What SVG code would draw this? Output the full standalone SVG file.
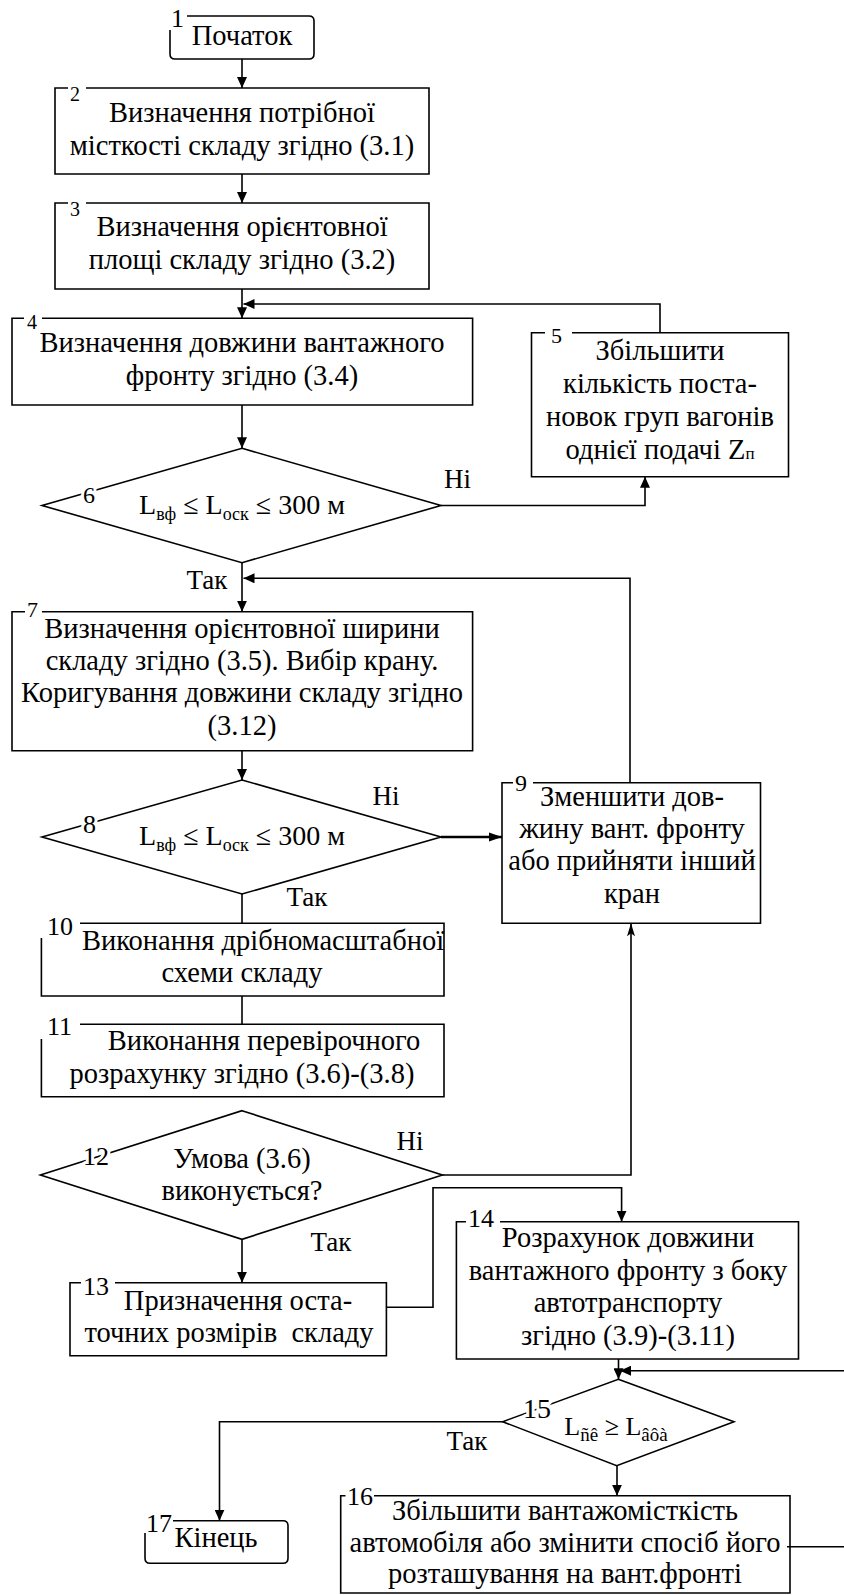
<svg xmlns="http://www.w3.org/2000/svg" width="844" height="1595" viewBox="0 0 844 1595">
<style>
text{font-family:'Liberation Serif','Times New Roman',serif;fill:#000}
.t{font-size:28.5px;text-anchor:middle}
.n{font-size:26px}
.ns{font-size:20px}
.h{stroke:#fff;stroke-width:6px;paint-order:stroke;stroke-linejoin:round}
.b{fill:none;stroke:#000;stroke-width:1.6}
.c{fill:none;stroke:#000;stroke-width:1.6}
.lab{font-size:27px;text-anchor:middle}
.f{font-size:28px;text-anchor:middle}
.sub{font-size:18px}
</style>
<defs>
<marker id="a" markerUnits="userSpaceOnUse" markerWidth="12" markerHeight="10" refX="11" refY="5" orient="auto">
<path d="M0,0 L11,5 L0,10 z" fill="#000"/>
</marker>
<marker id="a2" markerUnits="userSpaceOnUse" markerWidth="14" markerHeight="10" refX="13" refY="5" orient="auto">
<path d="M0,0.5 L13,5 L0,9.5 z" fill="#000"/>
</marker>
<marker id="a3" markerUnits="userSpaceOnUse" markerWidth="14" markerHeight="8" refX="13" refY="4" orient="auto">
<path d="M0,0 L13,4 L0,8 L3,4 z" fill="#000"/>
</marker>
</defs>
<rect width="844" height="1595" fill="#fff"/>

<g id="connectors">
<path class="c" d="M242,59 V88" marker-end="url(#a)"/>
<path class="c" d="M242,174 V203" marker-end="url(#a)"/>
<path class="c" d="M242,289 V318.3" marker-end="url(#a)"/>
<path class="c" d="M660,332.7 V304 H243.5" marker-end="url(#a)"/>
<path class="c" d="M242,405 V448.3" marker-end="url(#a)"/>
<path class="c" d="M441,505.5 H645 V476.7" marker-end="url(#a)"/>
<path class="c" d="M242,563 V611.7" marker-end="url(#a)"/>
<path class="c" d="M630,782.7 V578.3 H243.5" marker-end="url(#a)"/>
<path class="c" d="M242,750.7 V780" marker-end="url(#a)"/>
<path class="c" style="stroke-width:2.4" d="M441,837 H502" marker-end="url(#a2)"/>
<path class="c" d="M242,894 V923.3"/>
<path class="c" d="M242,996 V1024.3"/>
<path class="c" d="M442.4,1175 H631 V923.3" marker-end="url(#a3)"/>
<path class="c" d="M242,1239 V1282.7" marker-end="url(#a)"/>
<path class="c" d="M386.4,1307.3 H433 V1187.7 H621.6 V1221.7" marker-end="url(#a)"/>
<path class="c" d="M618.5,1359 V1379.3" marker-end="url(#a)"/>
<path class="c" d="M844,1370.7 H620" marker-end="url(#a)"/>
<path class="c" d="M502.7,1421.7 H219.5 V1520.7" marker-end="url(#a)"/>
<path class="c" d="M617,1465.7 V1495.7" marker-end="url(#a)"/>
<path class="c" d="M787,1546.7 H844"/>
<text class="lab" x="457.5" y="488">Ні</text>
<text class="lab" x="207" y="589">Так</text>
<text class="lab" x="386" y="805">Ні</text>
<text class="lab" x="307" y="906">Так</text>
<text class="lab" x="410" y="1150">Ні</text>
<text class="lab" x="331" y="1251">Так</text>
<text class="lab" x="467" y="1450">Так</text>
</g>

<g id="n1">
<path class="b" d="M187,16 H309 Q314,16 314,21 V54 Q314,59 309,59 H175 Q170,59 170,54 V30"/>
<text class="n" x="171" y="27">1</text>
<text class="t" x="242" y="45">Початок</text>
</g>
<g id="n2">
<path class="b" d="M68,88 H55 V174 H429 V88 H86"/>
<text class="ns" x="70" y="101">2</text>
<text class="t" x="242" y="122">Визначення потрібної</text>
<text class="t" x="242" y="155">місткості складу згідно (3.1)</text>
</g>
<g id="n3">
<path class="b" d="M68,203 H55 V289 H429 V203 H86"/>
<text class="ns" x="70" y="216">3</text>
<text class="t" x="242" y="236">Визначення орієнтовної</text>
<text class="t" x="242" y="269">площі складу згідно (3.2)</text>
</g>
<g id="n4">
<path class="b" d="M24,318.3 H12 V405 H472.6 V318.3 H42"/>
<text class="ns" x="27" y="329">4</text>
<text class="t" x="242" y="352">Визначення довжини вантажного</text>
<text class="t" x="242" y="385">фронту згідно (3.4)</text>
</g>
<g id="n5">
<path class="b" d="M545,332.7 H531.5 V476.7 H788.5 V332.7 H572"/>
<text class="ns" x="551" y="343" style="font-size:22px">5</text>
<text class="t" x="660" y="360">Збільшити</text>
<text class="t" x="660" y="393">кількість поста-</text>
<text class="t" x="660" y="426">новок груп вагонів</text>
<text class="t" x="660" y="459">однієї подачі Z<tspan style="font-size:17px">п</tspan></text>
</g>
<g id="n6">
<path class="b" d="M242,448.3 L441,505.5 L242,562.7 L42,505.5 Z"/>
<text class="n h" x="83" y="503" style="font-size:24px">6</text>
<text class="f" x="242" y="514">L<tspan class="sub" dy="6">вф</tspan><tspan dy="-6"> ≤ L</tspan><tspan class="sub" dy="6">оск</tspan><tspan dy="-6"> ≤ 300 м</tspan></text>
</g>
<g id="n7">
<path class="b" d="M25,611.7 H12 V750.7 H472.6 V611.7 H42"/>
<text class="ns" x="27" y="617" style="font-size:22px">7</text>
<text class="t" x="242" y="638">Визначення орієнтовної ширини</text>
<text class="t" x="242" y="670">складу згідно (3.5). Вибір крану.</text>
<text class="t" x="242" y="702">Коригування довжини складу згідно</text>
<text class="t" x="242" y="735">(3.12)</text>
</g>
<g id="n8">
<path class="b" d="M242,780 L441,837 L242,894 L42,837 Z"/>
<text class="n h" x="83" y="833">8</text>
<text class="f" x="242" y="845">L<tspan class="sub" dy="6">вф</tspan><tspan dy="-6"> ≤ L</tspan><tspan class="sub" dy="6">оск</tspan><tspan dy="-6"> ≤ 300 м</tspan></text>
</g>
<g id="n9">
<path class="b" d="M513,782.7 H502 V923.3 H760.5 V782.7 H533"/>
<text class="n" x="515" y="791" style="font-size:24px">9</text>
<text class="t" x="632" y="806">Зменшити дов-</text>
<text class="t" x="632" y="838">жину вант. фронту</text>
<text class="t" x="632" y="870">або прийняти інший</text>
<text class="t" x="632" y="903">кран</text>
</g>
<g id="n10">
<path class="b" d="M41.4,938 V996 H444 V923.3 H80"/>
<text class="n" x="47" y="935">10</text>
<text class="t" x="263" y="950">Виконання дрібномасштабної</text>
<text class="t" x="242" y="982">схеми складу</text>
</g>
<g id="n11">
<path class="b" d="M41.4,1039 V1096.7 H444 V1024.3 H80"/>
<text class="n" x="47" y="1035">11</text>
<text class="t" x="264" y="1050">Виконання перевірочного</text>
<text class="t" x="242" y="1083">розрахунку згідно (3.6)-(3.8)</text>
</g>
<g id="n12">
<path class="b" d="M242,1110.7 L442.4,1175 L242,1239.3 L40.4,1175 Z"/>
<text class="n h" x="83" y="1165">12</text>
<text class="t" x="242" y="1168">Умова (3.6)</text>
<text class="t" x="242" y="1200">виконується?</text>
</g>
<g id="n13">
<path class="b" d="M81,1282.7 H70 V1355.7 H386.4 V1282.7 H115"/>
<text class="n" x="83" y="1295">13</text>
<text class="t" x="238" y="1310">Призначення оста-</text>
<text class="t" x="229" y="1342" style="white-space:pre">точних розмірів  складу</text>
</g>
<g id="n14">
<path class="b" d="M466,1221.7 H456.4 V1359 H798.5 V1221.7 H500"/>
<text class="n" x="468" y="1227">14</text>
<text class="t" x="628" y="1247">Розрахунок довжини</text>
<text class="t" x="628" y="1280">вантажного фронту з боку</text>
<text class="t" x="628" y="1312">автотранспорту</text>
<text class="t" x="628" y="1345">згідно (3.9)-(3.11)</text>
</g>
<g id="n15">
<path class="b" d="M618.3,1379.3 L734,1421.7 L616.7,1465.7 L502.7,1421.7 Z"/>
<text class="n h" x="523" y="1418" style="font-size:28px">15</text>
<text x="616" y="1435" style="font-size:26px;text-anchor:middle">L<tspan dy="6" style="font-size:19px">ñê</tspan><tspan dy="-6"> ≥ L</tspan><tspan dy="6" style="font-size:19px">âôà</tspan></text>
</g>
<g id="n16">
<path class="b" d="M345.5,1495.7 H340.7 V1593 H790 V1495.7 H374"/>
<text class="n" x="347" y="1505">16</text>
<text class="t" x="565" y="1520">Збільшити вантажомісткість</text>
<text class="t" x="565" y="1552">автомобіля або змінити спосіб його</text>
<text class="t" x="565" y="1583">розташування на вант.фронті</text>
</g>
<g id="n17">
<path class="b" d="M173,1520.7 H283 Q288,1520.7 288,1525.7 V1558.3 Q288,1563.3 283,1563.3 H150 Q145,1563.3 145,1558.3 V1533"/>
<text class="n" x="146" y="1532">17</text>
<text class="t" x="216" y="1547">Кінець</text>
</g>
</svg>
